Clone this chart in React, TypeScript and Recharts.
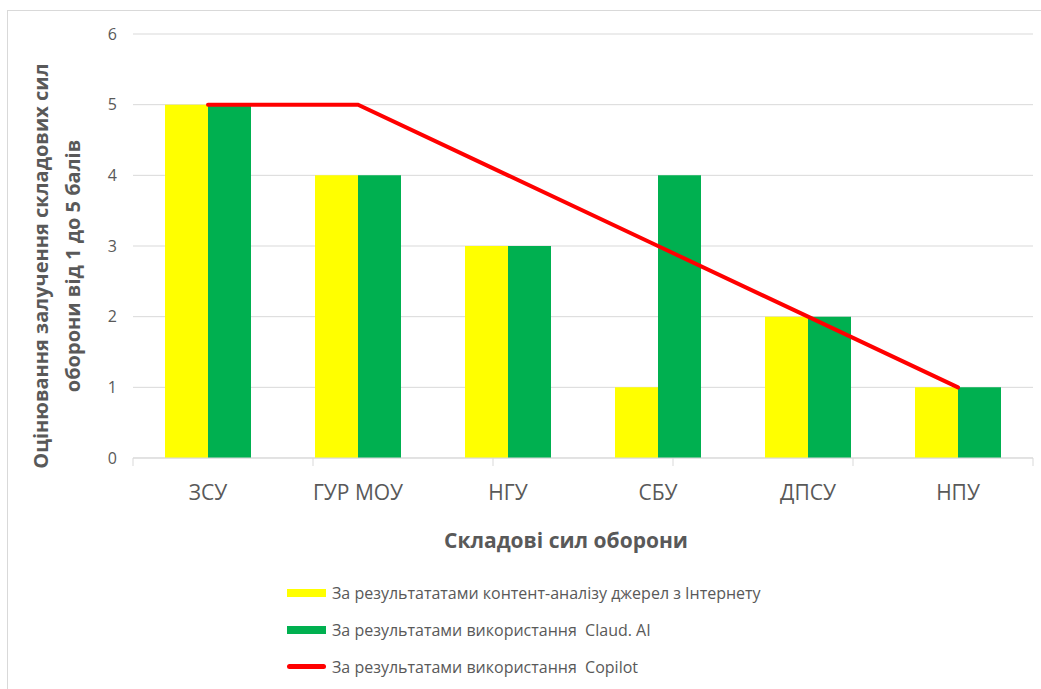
import {
  ComposedChart,
  Bar,
  Line,
  XAxis,
  YAxis,
  CartesianGrid,
  Legend,
  Label,
} from 'recharts';

const categories = ['ЗСУ', 'ГУР МОУ', 'НГУ', 'СБУ', 'ДПСУ', 'НПУ'];
const internetValues = [5, 4, 3, 1, 2, 1];
const claudeValues = [5, 4, 3, 4, 2, 1];
const copilotValues = [5, 5, 4, 3, 2, 1];
const yTicks = [0, 1, 2, 3, 4, 5, 6];
const edgeTicks = [0, 1, 2, 3, 4, 5, 6];

const seriesNames = {
  internet: 'За результататами контент-аналізу джерел з Інтернету',
  claude: 'За результатами використання  Claud. AI',
  copilot: 'За результатами використання  Copilot',
};

const data = categories.map((name, i) => ({
  name,
  internet: internetValues[i],
  claude: claudeValues[i],
  copilot: copilotValues[i],
}));

const FONT = '"Open Sans", "Noto Sans", sans-serif';
const TEXT = '#595959';
const GRID = '#d9d9d9';

const legendItems = [
  { key: 'internet', color: '#FFFF00', type: 'bar' },
  { key: 'claude', color: '#00B050', type: 'bar' },
  { key: 'copilot', color: '#FF0000', type: 'line' },
];

const renderLegend = () => (
  <div style={{ fontFamily: FONT, fontSize: 16, color: TEXT }}>
    {legendItems.map((it) => (
      <div
        key={it.key}
        style={{ display: 'flex', alignItems: 'center', height: 37 }}
      >
        <span
          style={{
            display: 'inline-block',
            width: 39,
            height: it.type === 'bar' ? 8 : 5,
            borderRadius: it.type === 'bar' ? 0 : 3,
            backgroundColor: it.color,
            marginRight: 6,
          }}
        />
        <span style={{ whiteSpace: 'pre' }}>{seriesNames[it.key as keyof typeof seriesNames]}</span>
      </div>
    ))}
  </div>
);

const renderYTitle = () => (
  <g>
    <text
      transform="translate(48, 266) rotate(-90)"
      textAnchor="middle"
      fontFamily={FONT}
      fontSize={20}
      fontWeight="bold"
      fill={TEXT}
    >
      Оцінювання залучення складових сил
    </text>
    <text
      transform="translate(80, 266) rotate(-90)"
      textAnchor="middle"
      fontFamily={FONT}
      fontSize={20}
      fontWeight="bold"
      fill={TEXT}
    >
      оборони від 1 до 5 балів
    </text>
  </g>
);

const renderXTitle = () => (
  <text
    x={566}
    y={548}
    textAnchor="middle"
    fontFamily={FONT}
    fontSize={21}
    fontWeight="bold"
    fill={TEXT}
  >
    Складові сил оборони
  </text>
);

export default function App() {
  return (
    <div style={{ position: 'absolute', left: 0, top: 0, width: 1041, height: 689, background: '#fff' }}>
      <div
        style={{
          position: 'absolute',
          left: 7,
          top: 10,
          width: 1041,
          height: 689,
          borderTop: `1px solid ${GRID}`,
          borderLeft: `1px solid ${GRID}`,
          pointerEvents: 'none',
        }}
      />
      <ComposedChart
        width={1041}
        height={689}
        data={data}
        margin={{ top: 34, right: 8, left: 93, bottom: 190 }}
        barGap={0}
      >
        <CartesianGrid vertical={false} stroke={GRID} xAxisId="cat" />
        <XAxis
          xAxisId="base"
          type="number"
          domain={[0, 6]}
          ticks={edgeTicks}
          tickFormatter={() => ''}
          tickSize={8}
          height={1}
          axisLine={{ stroke: GRID }}
          tickLine={{ stroke: GRID }}
        />
        <XAxis
          xAxisId="cat"
          dataKey="name"
          height={40}
          axisLine={false}
          tickLine={false}
          tickSize={0}
          tickMargin={26}
          tick={{ fill: TEXT, fontSize: 21, fontFamily: FONT }}
        >
          <Label content={renderXTitle} />
        </XAxis>
        <YAxis
          domain={[0, 6]}
          ticks={yTicks}
          width={40}
          axisLine={false}
          tickLine={false}
          tickSize={0}
          tickMargin={16}
          tick={{ fill: TEXT, fontSize: 16, fontFamily: FONT }}
        >
          <Label content={renderYTitle} />
        </YAxis>
        <Legend
          layout="vertical"
          align="center"
          verticalAlign="middle"
          content={renderLegend}
          wrapperStyle={{ position: 'absolute', left: 287, top: 574, width: 600 }}
        />
        <Bar xAxisId="cat" dataKey="internet" name={seriesNames.internet} fill="#FFFF00" barSize={43} isAnimationActive={false} />
        <Bar xAxisId="cat" dataKey="claude" name={seriesNames.claude} fill="#00B050" barSize={43} isAnimationActive={false} />
        <Line
          xAxisId="cat"
          type="linear"
          dataKey="copilot"
          name={seriesNames.copilot}
          stroke="#FF0000"
          strokeWidth={4}
          strokeLinecap="round"
          dot={false}
          activeDot={false}
          isAnimationActive={false}
        />
      </ComposedChart>
    </div>
  );
}
